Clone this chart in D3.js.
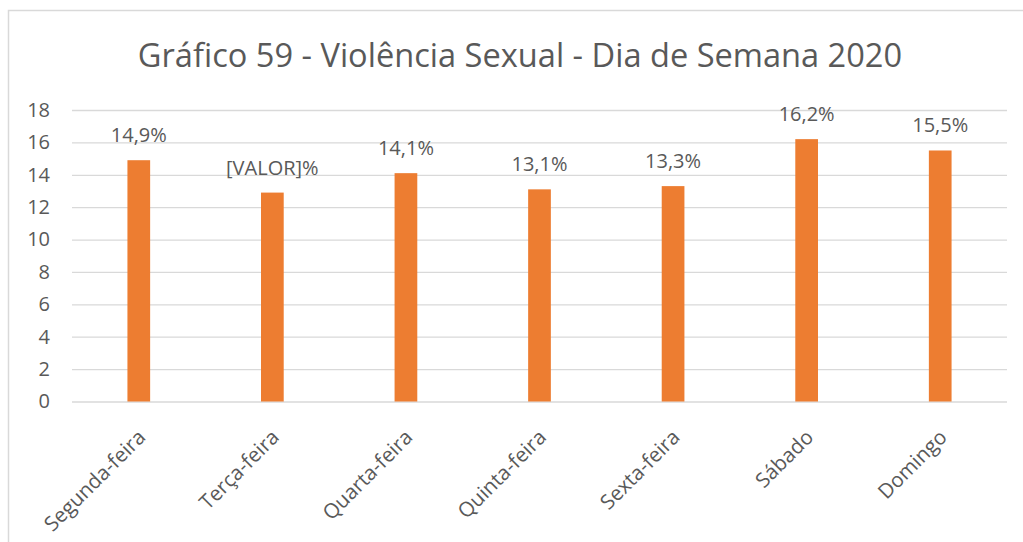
<!DOCTYPE html>
<html>
<head>
<meta charset="utf-8">
<script src="https://cdn.jsdelivr.net/npm/d3@7"></script>
<style>
  html, body { margin: 0; padding: 0; background: #fff; }
  svg { display: block; }
  text { font-family: "Open Sans", "Noto Sans", sans-serif; fill: #595959; }
</style>
</head>
<body>
<svg id="chart" width="1023" height="542"></svg>
<script>
// Dias da semana e percentuais de casos (2020)
const dias = ["Segunda-feira", "Terça-feira", "Quarta-feira", "Quinta-feira", "Sexta-feira", "Sábado", "Domingo"];
const valores = [14.9, 12.9, 14.1, 13.1, 13.3, 16.2, 15.5];
const rotulos = ["14,9%", "[VALOR]%", "14,1%", "13,1%", "13,3%", "16,2%", "15,5%"];
const ticksY = [0, 2, 4, 6, 8, 10, 12, 14, 16, 18];
const titulo = "Gráfico 59 - Violência Sexual - Dia de Semana 2020";

const svg = d3.select("#chart");
const W = 1023, H = 542;
const plot = { left: 72, right: 1007, top: 110, bottom: 401.5 };

// moldura do gráfico
svg.append("rect")
  .attr("x", 8.5).attr("y", 10.5)
  .attr("width", W + 10).attr("height", H + 10)
  .attr("fill", "#fff").attr("stroke", "#d9d9d9").attr("stroke-width", 1.5);

const x = d3.scaleBand().domain(dias).range([plot.left, plot.right]).paddingInner(0.83).paddingOuter(0.415);
const y = d3.scaleLinear().domain([0, 18]).range([plot.bottom, plot.top]);

// título
svg.append("text")
  .attr("x", 520).attr("y", 67)
  .attr("text-anchor", "middle")
  .style("font-size", "32.6px")
  .text(titulo);

// linhas de grade e rótulos do eixo Y
const eixoY = d3.axisLeft(y).tickValues(ticksY).tickSize(-(plot.right - plot.left)).tickPadding(22);
const gY = svg.append("g").attr("transform", `translate(${plot.left},0)`).call(eixoY);
gY.select(".domain").remove();
gY.selectAll(".tick line").attr("stroke", "#d9d9d9").attr("stroke-width", 1.3);
gY.selectAll(".tick text")
  .style("font-size", "20px")
  .attr("fill", "#595959")
  .style("font-family", "'Open Sans', sans-serif");

// barras
svg.append("g").selectAll("rect")
  .data(dias)
  .join("rect")
  .attr("x", d => x(d))
  .attr("width", x.bandwidth())
  .attr("y", (d, i) => y(valores[i]))
  .attr("height", (d, i) => y(0) - y(valores[i]))
  .attr("fill", "#ED7D31");

// rótulos de dados
svg.append("g").selectAll("text")
  .data(dias)
  .join("text")
  .attr("x", d => x(d) + x.bandwidth() / 2)
  .attr("y", (d, i) => y(valores[i]) - 18)
  .attr("text-anchor", "middle")
  .style("font-size", "20px")
  .text((d, i) => rotulos[i]);

// rótulos do eixo X, girados 45°
const eixoX = d3.axisBottom(x).tickSize(0).tickPadding(0);
const gX = svg.append("g").attr("transform", `translate(0,${plot.bottom})`).call(eixoX);
gX.select(".domain").remove();
gX.selectAll(".tick text")
  .style("font-size", "20.5px")
  .style("font-family", "'Open Sans', sans-serif")
  .attr("fill", "#595959")
  .attr("text-anchor", "end")
  .attr("dy", null)
  .attr("transform", "translate(8,37) rotate(-45)");
</script>
</body>
</html>
